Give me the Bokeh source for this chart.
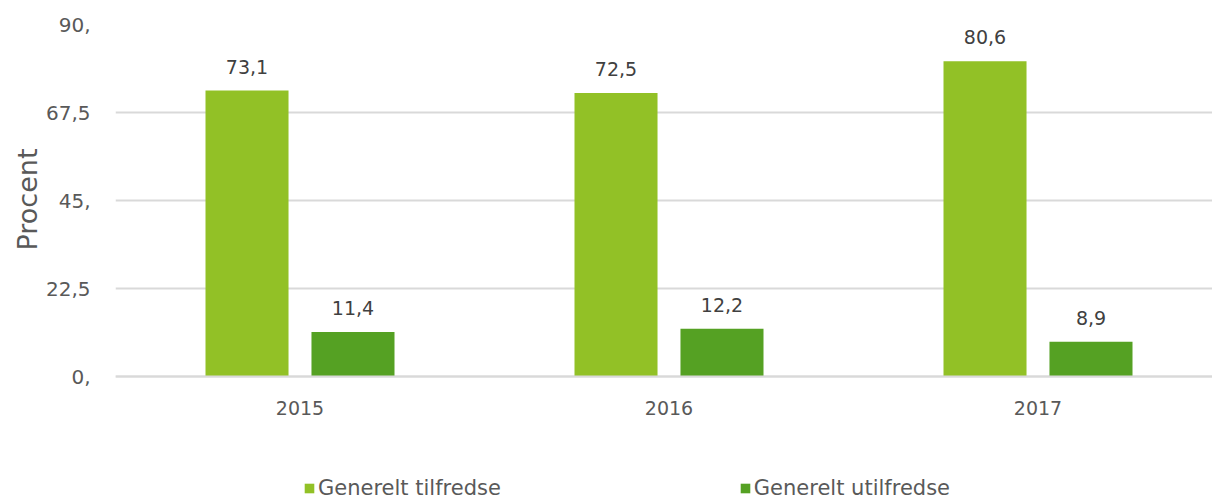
from bokeh.plotting import figure
from bokeh.models import ColumnDataSource, Range1d, FixedTicker, Legend, LegendItem, Title
from bokeh.core.properties import value
from bokeh.embed import file_html
from bokeh.resources import INLINE

years = ["2015", "2016", "2017"]
tilfredse = [73.1, 72.5, 80.6]
utilfredse = [11.4, 12.2, 8.9]
series_names = ["Generelt tilfredse", "Generelt utilfredse"]
y_ticks = [0, 22.5, 45, 67.5, 90]
y_tick_labels = ["0,", "22,5", "45,", "67,5", "90,"]
y_title = "Procent"

FONT = "DejaVu Sans"
LIGHT = "#92c126"
DARK = "#55a123"
TXT = "#595959"

W, H = 1212, 500
LEFT, TOP = 115, 24
ZERO_PX = 376          # pixel row of value 0
PX_PER_UNIT = (ZERO_PX - TOP) / 90.0
CAT_PX = 369

def fmt(v):
    return f"{v:.1f}".replace(".", ",")

centers = [i + 0.5 for i in range(len(years))]
off = 0.1436
bw = 0.225

src1 = ColumnDataSource(dict(x=[c - off for c in centers], top=tilfredse,
                             lab=[fmt(v) for v in tilfredse]))
src2 = ColumnDataSource(dict(x=[c + off for c in centers], top=utilfredse,
                             lab=[fmt(v) for v in utilfredse]))

y_start = -(H - ZERO_PX) / PX_PER_UNIT
p = figure(width=W, height=H, output_backend="svg", toolbar_location=None,
           x_range=Range1d(0, (W - LEFT) / CAT_PX), y_range=Range1d(y_start, 90),
           min_border_left=LEFT, min_border_right=0, min_border_top=TOP,
           min_border_bottom=0)
p.outline_line_color = None
p.background_fill_color = "white"

r1 = p.vbar(x="x", top="top", bottom=0, width=bw, source=src1, fill_color=LIGHT, line_color=None)
r2 = p.vbar(x="x", top="top", bottom=0, width=bw, source=src2, fill_color=DARK, line_color=None)

for s in (src1, src2):
    p.text(x="x", y="top", text="lab", source=s, text_align="center",
           text_baseline="alphabetic", y_offset=-24, text_font=value(FONT),
           text_font_size="19px", text_color="#404040")

# axes
p.xgrid.grid_line_color = None
p.ygrid.grid_line_color = "#d9d9d9"
p.ygrid.grid_line_width = 2
p.yaxis.ticker = FixedTicker(ticks=y_ticks)
p.yaxis.major_label_overrides = {t: l for t, l in zip(y_ticks, y_tick_labels)}
p.xaxis.ticker = FixedTicker(ticks=centers)
p.xaxis.major_label_overrides = {c: y for c, y in zip(centers, years)}
p.xaxis.fixed_location = 0

for ax in (p.xaxis[0], p.yaxis[0]):
    ax.major_tick_line_color = None
    ax.minor_tick_line_color = None
    ax.major_label_text_font = FONT
    ax.major_label_text_color = TXT
p.xaxis.major_label_text_font_size = "19px"
p.yaxis.major_label_text_font_size = "20px"
p.yaxis.axis_line_color = None
p.xaxis.axis_line_color = "#d9d9d9"
p.xaxis.axis_line_width = 2
p.yaxis.major_label_standoff = 19
p.xaxis.major_label_standoff = 18

ttl = Title(text=y_title, align="left", offset=250, standoff=0,
            text_font=FONT, text_font_size="27px", text_font_style="normal",
            text_color=TXT)
p.add_layout(ttl, "left")

legend = Legend(items=[LegendItem(label=series_names[0], renderers=[r1]),
                       LegendItem(label=series_names[1], renderers=[r2])],
                orientation="horizontal", location=(188, 0),
                padding=0, margin=0, spacing=238, label_standoff=3,
                glyph_width=12, glyph_height=12,
                label_text_font=FONT, label_text_font_size="21px",
                label_text_color=TXT, border_line_color=None,
                background_fill_alpha=0)
p.add_layout(legend, "center")

open("out.html", "w").write(file_html(p, INLINE))
